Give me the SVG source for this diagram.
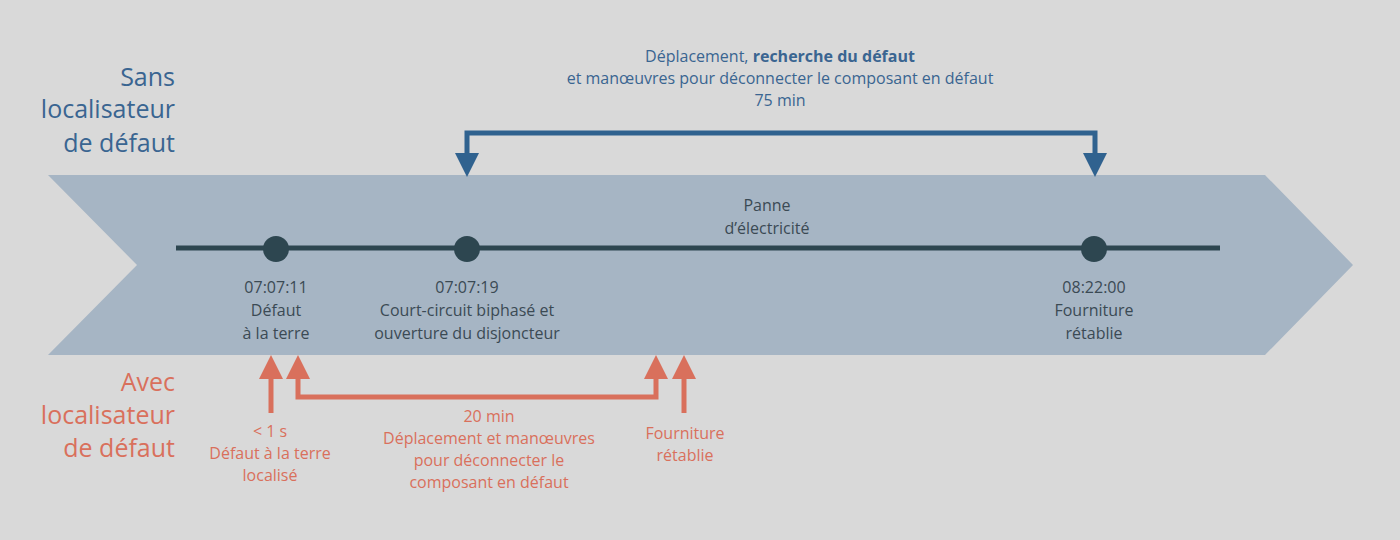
<svg xmlns="http://www.w3.org/2000/svg" width="1400" height="540" viewBox="0 0 1400 540">
<defs><style>
text{font-family:"Open Sans","Liberation Sans",sans-serif;text-anchor:middle}
.d{fill:#3b4a54;font-size:16px}
.b{fill:#3a6591;font-size:16px}
.o{fill:#d9705c;font-size:16px}
.h{font-size:25px;text-anchor:end}
.ol{stroke:#d9705c;stroke-width:5;fill:none}
.bl{stroke:#30628f;stroke-width:5;fill:none}
</style></defs>
<rect width="1400" height="540" fill="#d9d9d9"/>
<polygon points="48,175 1265,175 1353,265 1265,355 48,355 137,265" fill="#a6b5c4"/>
<g id="labels-left">
<text class="b h" x="175" y="86">Sans</text><text class="b h" x="175" y="118">localisateur</text><text class="b h" x="175" y="152">de défaut</text>
<text class="o h" x="175" y="391">Avec</text><text class="o h" x="175" y="424">localisateur</text><text class="o h" x="175" y="457">de défaut</text>
</g>
<g id="connectors">
<line x1="176" y1="248" x2="1220" y2="248" stroke="#2d4650" stroke-width="5"/>
<polyline class="bl" points="467,155 467,133 1095,133 1095,155"/>
<polygon points="455,153 479,153 467,177" fill="#30628f"/>
<polygon points="1083,153 1107,153 1095,177" fill="#30628f"/>
<line class="ol" x1="271" y1="377" x2="271" y2="413"/>
<polyline class="ol" points="298,377 298,397 656,397 656,377"/>
<line class="ol" x1="684" y1="377" x2="684" y2="413"/>
<polygon points="259,379 283,379 271,355" fill="#d9705c"/>
<polygon points="286,379 310,379 298,355" fill="#d9705c"/>
<polygon points="644,379 668,379 656,355" fill="#d9705c"/>
<polygon points="672,379 696,379 684,355" fill="#d9705c"/>
</g>
<g id="n1"><circle cx="276" cy="249" r="13" fill="#2d4650"/><text class="d" x="276" y="293">07:07:11</text><text class="d" x="276" y="316">Défaut</text><text class="d" x="276" y="339">à la terre</text></g>
<g id="n2"><circle cx="467" cy="249" r="13" fill="#2d4650"/><text class="d" x="467" y="293">07:07:19</text><text class="d" x="467" y="316">Court-circuit biphasé et</text><text class="d" x="467" y="339">ouverture du disjoncteur</text></g>
<g id="n3"><circle cx="1094" cy="249" r="13" fill="#2d4650"/><text class="d" x="1094" y="293">08:22:00</text><text class="d" x="1094" y="316">Fourniture</text><text class="d" x="1094" y="339">rétablie</text></g>
<g id="panne"><text class="d" x="767" y="211">Panne</text><text class="d" x="767" y="234">d’électricité</text></g>
<g id="top-label"><text class="b" x="780" y="62">Déplacement, <tspan font-weight="bold">recherche du défaut</tspan></text><text class="b" x="780" y="84">et manœuvres pour déconnecter le composant en défaut</text><text class="b" x="780" y="106">75 min</text></g>
<g id="bottom-labels">
<text class="o" x="270" y="437">&lt; 1 s</text><text class="o" x="270" y="459">Défaut à la terre</text><text class="o" x="270" y="481">localisé</text>
<text class="o" x="489" y="422">20 min</text><text class="o" x="489" y="444">Déplacement et manœuvres</text><text class="o" x="489" y="466">pour déconnecter le</text><text class="o" x="489" y="488">composant en défaut</text>
<text class="o" x="685" y="439">Fourniture</text><text class="o" x="685" y="461">rétablie</text>
</g>
</svg>
